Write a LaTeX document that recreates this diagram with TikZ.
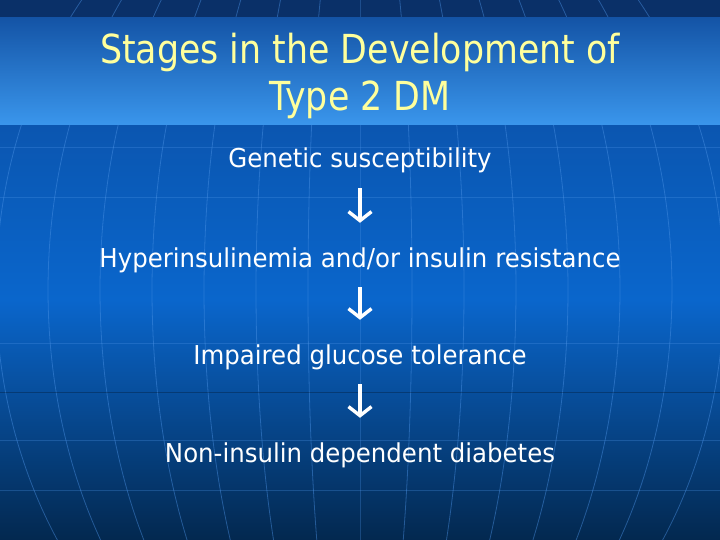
\documentclass[tikz,border=0pt]{standalone}
\usepackage{fontspec}
\setmainfont{DejaVu Sans}[FakeStretch=0.87]
\newfontfamily\bodyfont{DejaVu Sans}[FakeStretch=0.94]
\usetikzlibrary{arrows.meta}
\definecolor{stripnavy}{HTML}{0A3068}
\definecolor{bgtop}{HTML}{0B4C9F}
\definecolor{bgmid}{HTML}{0A66CC}
\definecolor{bgbot}{HTML}{03284F}
\definecolor{bandtop}{HTML}{1454A6}
\definecolor{bandbot}{HTML}{3A96EC}
\definecolor{gridblue}{HTML}{4C93E6}
\definecolor{titleyellow}{HTML}{FFFF9C}
\begin{document}
\begin{tikzpicture}[x=1pt,y=-1pt]
\tikzstyle{stage}=[text=white,font=\bodyfont\fontsize{26}{30}\selectfont,inner sep=0pt,text height=19pt,text depth=6pt,anchor=base]
\tikzstyle{flow}=[white,line width=3.4pt,-{Straight Barb[length=9pt,width=23pt]},shorten <=14pt,shorten >=25pt]
\tikzstyle{meridian}=[gridblue,line width=0.8pt,opacity=0.45]
\tikzstyle{parallel}=[gridblue,line width=0.6pt,opacity=0.3]
\useasboundingbox (0,0) rectangle (720,540);
\begin{scope}
\clip (0,0) rectangle (720,540);
\shade[top color=bgtop,bottom color=bgmid] (0,18) rectangle (720,300);
\shade[top color=bgmid,bottom color=bgbot] (0,300) rectangle (720,540);
\fill[stripnavy] (0,0) rectangle (720,18);
\foreach \k in {-7,...,7}
  \draw[meridian] plot[domain=-42:42,samples=40,smooth] ({360+52*\k*cos(\x)},{290-450*sin(\x)});
\foreach \y in {147,197,343,440,490}
  \draw[parallel] (0,\y) -- (720,\y);
\draw[black,opacity=0.25,line width=0.6pt] (0,392) -- (720,392);
\end{scope}
\shade[top color=bandtop,bottom color=bandbot] (0,18) rectangle (720,125);
\node[text=titleyellow,font=\fontsize{40}{47}\selectfont,align=center,inner sep=0pt] (title) at (360,76) {Stages in the Development of\\Type 2 DM};
\node[stage] (gen) at (360,168) {Genetic susceptibility};
\node[stage] (hyper) at (360,267) {Hyperinsulinemia and/or insulin resistance};
\node[stage] (igt) at (360,364) {Impaired glucose tolerance};
\node[stage] (niddm) at (360,462) {Non-insulin dependent diabetes};
\draw[flow] (gen) -- (hyper);
\draw[flow] (hyper) -- (igt);
\draw[flow] (igt) -- (niddm);
\end{tikzpicture}
\end{document}
